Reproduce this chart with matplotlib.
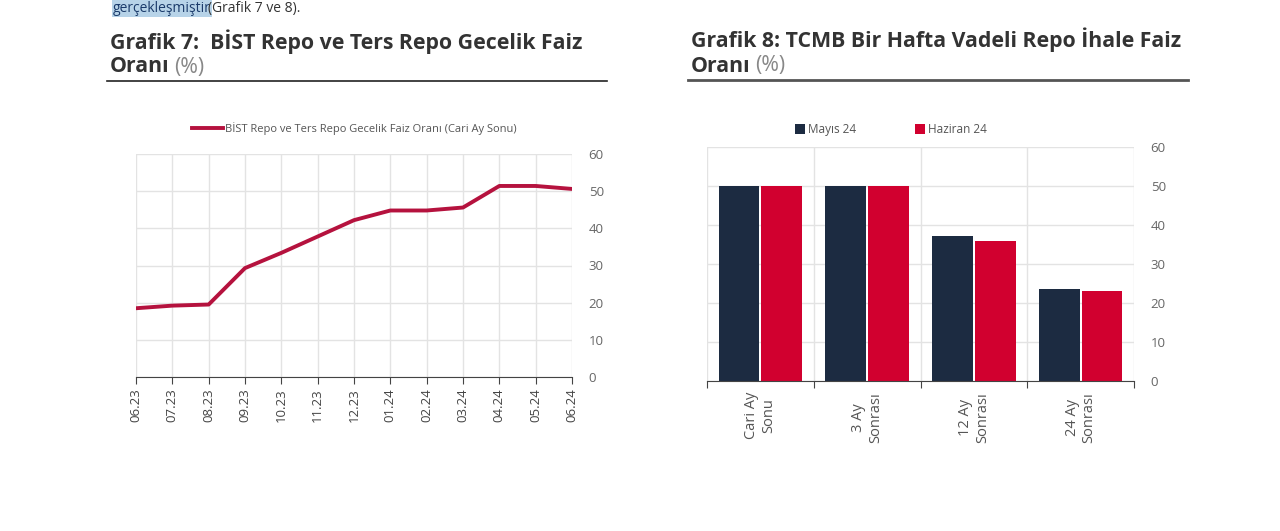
import matplotlib
matplotlib.use("Agg")
import matplotlib.pyplot as plt
import numpy as np

plt.rcParams['font.family'] = ['Open Sans', 'DejaVu Sans']

months = ["06.23","07.23","08.23","09.23","10.23","11.23","12.23","01.24","02.24","03.24","04.24","05.24","06.24"]
repo = [18.5, 19.2, 19.5, 29.3, 33.4, 37.8, 42.2, 44.8, 44.8, 45.6, 51.4, 51.4, 50.6]

cats = ["Cari Ay\nSonu", "3 Ay\nSonrası", "12 Ay\nSonrası", "24 Ay\nSonrası"]
mayis = [50.0, 50.0, 37.3, 23.6]
haziran = [50.0, 50.0, 35.8, 23.2]

W, H = 1280, 531
fig = plt.figure(figsize=(12.8, 5.31), dpi=100)
def fx(x): return x / W
def fy(y): return 1 - y / H

grey = '#666666'
# top text
fig.text(fx(113), fy(1), "gerçekleşmiştir", fontsize=10, color='#1a3a6a', va='top',
         bbox=dict(facecolor='#b7d3e8', edgecolor='none', pad=0.5))
fig.text(fx(208), fy(1), "(Grafik 7 ve 8).", fontsize=10, color='#333333', va='top')

# Titles
fs = 15.3
fig.text(fx(110), fy(42), "Grafik 7:  BİST Repo ve Ters Repo Gecelik Faiz", fontsize=fs, fontweight='bold', color='#333333', va='center')
fig.text(fx(110), fy(67), "Oranı", fontsize=fs, fontweight='bold', color='#333333', va='center')
fig.text(fx(174), fy(67), "(%)", fontsize=fs, color='#888888', va='center')
fig.add_artist(plt.Line2D([fx(107), fx(607)], [fy(81), fy(81)], color='#222222', lw=1.2))

fig.text(fx(691), fy(40), "Grafik 8: TCMB Bir Hafta Vadeli Repo İhale Faiz", fontsize=fs, fontweight='bold', color='#333333', va='center')
fig.text(fx(691), fy(66), "Oranı", fontsize=fs, fontweight='bold', color='#333333', va='center')
fig.text(fx(755), fy(66), "(%)", fontsize=fs, color='#888888', va='center')
fig.add_artist(plt.Line2D([fx(688), fx(1188)], [fy(80), fy(80)], color='#555555', lw=2))

# Line chart
ax1 = fig.add_axes([fx(136), fy(377), fx(572) - fx(136), fy(154) - fy(377)])
x = np.arange(len(months))
ax1.plot(x, repo, color='#b5123e', lw=2.8, label="BİST Repo ve Ters Repo Gecelik Faiz Oranı (Cari Ay Sonu)")
ax1.set_xlim(0, len(months) - 1)
ax1.set_ylim(0, 60)
ax1.set_yticks(range(0, 61, 10))
ax1.set_xticks(x)
ax1.set_xticklabels(months, rotation=90, fontsize=9.5, color='#444444')
ax1.yaxis.tick_right()
ax1.tick_params(axis='y', length=0, labelsize=9.5, labelcolor=grey, pad=12)
ax1.tick_params(axis='x', direction='out', length=5, color='#444444', pad=3)
ax1.grid(True, color='#e3e3e3', lw=1)
for s in ['top', 'right', 'left']:
    ax1.spines[s].set_visible(False)
ax1.spines['bottom'].set_color('#444444')
ax1.legend(loc='lower center', bbox_to_anchor=(0.5, 1.04), frameon=False, fontsize=8,
           handlelength=2.8, handletextpad=0.2, labelcolor='#555555')

# Bar chart
ax2 = fig.add_axes([fx(707), fy(381), fx(1134) - fx(707), fy(147) - fy(381)])
xc = np.arange(len(cats))
bw = 0.38
ax2.bar(xc - 0.2, mayis, width=bw, color='#1c2b41', label='Mayıs 24')
ax2.bar(xc + 0.2, haziran, width=bw, color='#d1002f', label='Haziran 24')
ax2.set_xlim(-0.5, len(cats) - 0.5)
ax2.set_ylim(0, 60)
ax2.set_yticks(range(0, 61, 10))
ax2.yaxis.tick_right()
ax2.tick_params(axis='y', length=0, labelsize=9.5, labelcolor=grey, pad=12)
ax2.set_xticks(np.arange(-0.5, len(cats), 1.0))
ax2.set_xticklabels([])
ax2.set_xticks(xc, minor=True)
ax2.set_xticklabels(cats, minor=True, rotation=90, fontsize=10.5, color='#555555', va='top')
ax2.tick_params(axis='x', which='minor', length=0, pad=8)
ax2.tick_params(axis='x', which='major', direction='out', length=5, color='#444444')
ax2.grid(True, which='major', color='#e3e3e3', lw=1)
ax2.set_axisbelow(True)
for s in ['top', 'right', 'left']:
    ax2.spines[s].set_visible(False)
ax2.spines['bottom'].set_color('#444444')
ax2.legend(loc='lower center', bbox_to_anchor=(0.43, 1.0), ncol=2, frameon=False, fontsize=8.5,
           handlelength=0.9, handleheight=0.9, handletextpad=0.2, columnspacing=5, labelcolor='#555555')

fig.savefig("out.png", dpi=100, facecolor='white')
